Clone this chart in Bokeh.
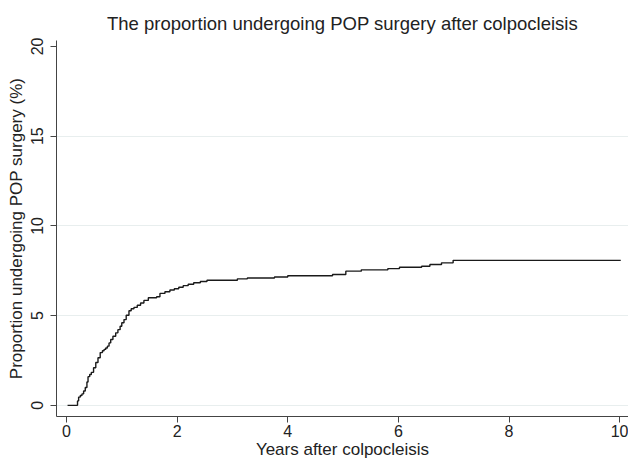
from bokeh.plotting import figure
from bokeh.models import Range1d, FixedTicker
from bokeh.embed import file_html
from bokeh.resources import INLINE

years = [0.02, 0.18, 0.20, 0.22, 0.25, 0.28, 0.31, 0.34, 0.37, 0.39, 0.42, 0.45, 0.49, 0.53,
         0.57, 0.61, 0.65, 0.68, 0.71, 0.74, 0.77, 0.80, 0.84, 0.89, 0.93, 0.97, 1.00, 1.04,
         1.08, 1.13, 1.17, 1.22, 1.28, 1.34, 1.40, 1.48, 1.63, 1.69, 1.78, 1.87, 1.95, 2.03,
         2.11, 2.20, 2.30, 2.42, 2.54, 3.09, 3.27, 3.76, 4.00, 4.81, 5.05, 5.33, 5.81, 6.02,
         6.42, 6.57, 6.78, 6.99, 10.02]
proportion = [0.0, 0.0, 0.25, 0.46, 0.55, 0.64, 0.80, 1.00, 1.30, 1.60, 1.72, 1.84, 2.10, 2.39,
              2.65, 2.94, 3.04, 3.12, 3.20, 3.30, 3.48, 3.67, 3.85, 4.04, 4.22, 4.41, 4.60, 4.78,
              5.02, 5.27, 5.38, 5.46, 5.58, 5.70, 5.85, 6.00, 6.05, 6.24, 6.33, 6.43, 6.50, 6.58,
              6.67, 6.75, 6.83, 6.90, 6.97, 7.05, 7.10, 7.15, 7.22, 7.29, 7.48, 7.55, 7.62, 7.70,
              7.75, 7.85, 7.94, 8.08, 8.08]
x_ticks = [0, 2, 4, 6, 8, 10]
y_ticks = [0, 5, 10, 15, 20]
grid_ticks = [0, 5, 10, 15]
x_title = "Years after colpocleisis"
y_title = "Proportion undergoing POP surgery (%)"

FONT = "Liberation Sans"

p = figure(width=628, height=461, output_backend="svg", toolbar_location=None,
           x_range=Range1d(-0.18, 10.16), y_range=Range1d(-0.62, 20.33),
           min_border_left=56, min_border_right=0, min_border_top=40, min_border_bottom=42,
           title="The proportion undergoing POP surgery after colpocleisis")

p.step(years, proportion, mode="after", line_color="#1a1a1a", line_width=1.4)

p.outline_line_color = None
p.title.text_font = FONT
p.title.text_font_size = "18.5px"
p.title.text_font_style = "normal"
p.title.text_color = "#222222"
p.title.align = "center"
p.title.standoff = 14

p.xaxis.ticker = FixedTicker(ticks=x_ticks)
p.yaxis.ticker = FixedTicker(ticks=y_ticks)
p.xaxis.axis_label = x_title
p.yaxis.axis_label = y_title
for ax in (p.xaxis, p.yaxis):
    ax.axis_label_text_font = FONT
    ax.axis_label_text_font_size = "17px"
    ax.axis_label_text_font_style = "normal"
    ax.axis_label_text_color = "#222222"
    ax.major_label_text_font = FONT
    ax.major_label_text_font_size = "16px"
    ax.major_label_text_color = "#222222"
    ax.axis_line_color = "#444444"
    ax.major_tick_line_color = "#444444"
    ax.major_tick_in = 0
    ax.major_tick_out = 6
    ax.minor_tick_line_color = None
p.yaxis.major_label_orientation = "vertical"
p.yaxis.major_label_standoff = 7
p.yaxis.axis_label_standoff = 3
p.xaxis.major_label_standoff = 2
p.xaxis.axis_label_standoff = 0

p.xgrid.grid_line_color = None
p.ygrid.ticker = FixedTicker(ticks=grid_ticks)
p.ygrid.grid_line_color = "#e8eeee"
p.ygrid.grid_line_width = 1

open("out.html", "w").write(file_html(p, INLINE))
